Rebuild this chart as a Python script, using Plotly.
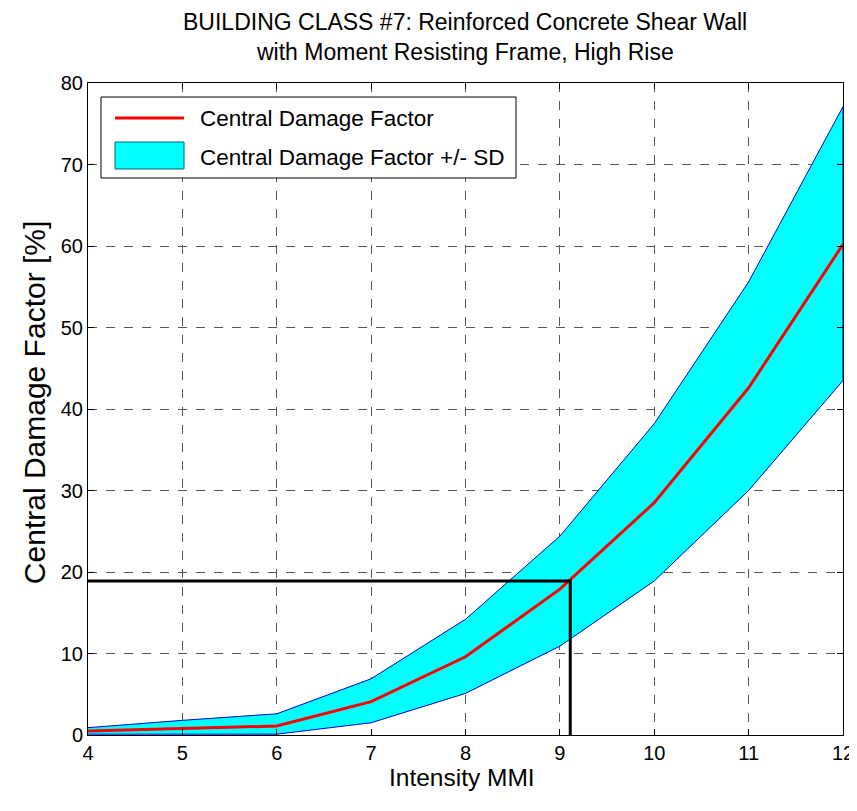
import plotly.graph_objects as go

mmi = [4, 5, 6, 7, 8, 9, 10, 11, 12]
central = [0.5, 0.8, 1.1, 4.1, 9.6, 17.9, 28.5, 42.6, 60.2]
upper = [0.9, 1.8, 2.6, 6.9, 14.2, 24.4, 38.2, 55.6, 77.1]
lower = [0.1, 0.1, 0.1, 1.5, 5.1, 10.9, 18.9, 30.0, 43.5]
marker_x = 9.11
marker_y = 18.9

xticks = list(range(4, 13))
yticks = list(range(0, 81, 10))

FONT = "Liberation Sans, Arial, Helvetica, sans-serif"

fig = go.Figure()
fig.add_trace(go.Scatter(
    x=mmi + mmi[::-1], y=upper + lower[::-1],
    fill="toself", fillcolor="#00FFFF",
    line=dict(color="#0000CC", width=1),
    mode="lines", showlegend=False, hoverinfo="skip"))
fig.add_trace(go.Scatter(
    x=mmi, y=central, mode="lines",
    line=dict(color="#FF0000", width=3), showlegend=False))
fig.add_trace(go.Scatter(
    x=[mmi[0], marker_x, marker_x], y=[marker_y, marker_y, 0],
    mode="lines", line=dict(color="black", width=3), showlegend=False))

# custom legend (paper coordinates)
fig.add_shape(type="rect", xref="paper", yref="paper",
              x0=0.0172, x1=0.5669, y0=0.8543, y1=0.9785,
              line=dict(color="black", width=1), fillcolor="white")
fig.add_shape(type="line", xref="paper", yref="paper",
              x0=0.0358, x1=0.1272, y0=0.9463, y1=0.9463,
              line=dict(color="#FF0000", width=3))
fig.add_shape(type="rect", xref="paper", yref="paper",
              x0=0.0358, x1=0.1272, y0=0.8681, y1=0.9095,
              line=dict(color="#006666", width=1), fillcolor="#00FFFF")
fig.add_annotation(xref="paper", yref="paper", x=0.1457, y=0.9448,
                   text="Central Damage Factor", showarrow=False,
                   xanchor="left", yanchor="middle",
                   font=dict(family=FONT, size=22.5, color="black"))
fig.add_annotation(xref="paper", yref="paper", x=0.1457, y=0.8865,
                   text="Central Damage Factor +/- SD", showarrow=False,
                   xanchor="left", yanchor="middle",
                   font=dict(family=FONT, size=22.5, color="black"))

# title and axis titles
fig.add_annotation(xref="paper", yref="paper", x=0.4993, y=1.0936,
                   text="BUILDING CLASS #7: Reinforced Concrete Shear Wall",
                   showarrow=False, xanchor="center", yanchor="middle",
                   font=dict(family=FONT, size=23, color="black"))
fig.add_annotation(xref="paper", yref="paper", x=0.4993, y=1.0475,
                   text="with Moment Resisting Frame, High Rise",
                   showarrow=False, xanchor="center", yanchor="middle",
                   font=dict(family=FONT, size=23, color="black"))
fig.add_annotation(xref="paper", yref="paper", x=0.495, y=-0.0645,
                   text="Intensity MMI", showarrow=False,
                   xanchor="center", yanchor="middle",
                   font=dict(family=FONT, size=24.5, color="black"))
fig.add_annotation(xref="paper", yref="paper", x=-0.0715, y=0.509,
                   text="Central Damage Factor [%]", showarrow=False,
                   textangle=-90, xanchor="center", yanchor="middle",
                   font=dict(family=FONT, size=30, color="black"))

fig.update_layout(
    width=849, height=795,
    margin=dict(l=80, r=14, t=75, b=68, autoexpand=False),
    paper_bgcolor="white", plot_bgcolor="white",
    font=dict(family=FONT, color="black"),
)
fig.update_xaxes(
    range=[4, 12], tickvals=xticks, ticks="inside", ticklen=6,
    tickcolor="black", showline=True, linecolor="black", linewidth=1,
    mirror="ticks", showgrid=True, gridcolor="#555555", griddash="dash",
    gridwidth=1, zeroline=False, automargin=False,
    ticklabeloverflow="allow",
    tickfont=dict(family=FONT, size=20, color="black"))
fig.update_yaxes(
    range=[0, 80], tickvals=yticks, ticks="inside", ticklen=6,
    tickcolor="black", showline=True, linecolor="black", linewidth=1,
    mirror="ticks", showgrid=True, gridcolor="#555555", griddash="dash",
    gridwidth=1, zeroline=False, automargin=False,
    ticklabeloverflow="allow",
    tickfont=dict(family=FONT, size=20, color="black"))

fig.write_html("out.html")
